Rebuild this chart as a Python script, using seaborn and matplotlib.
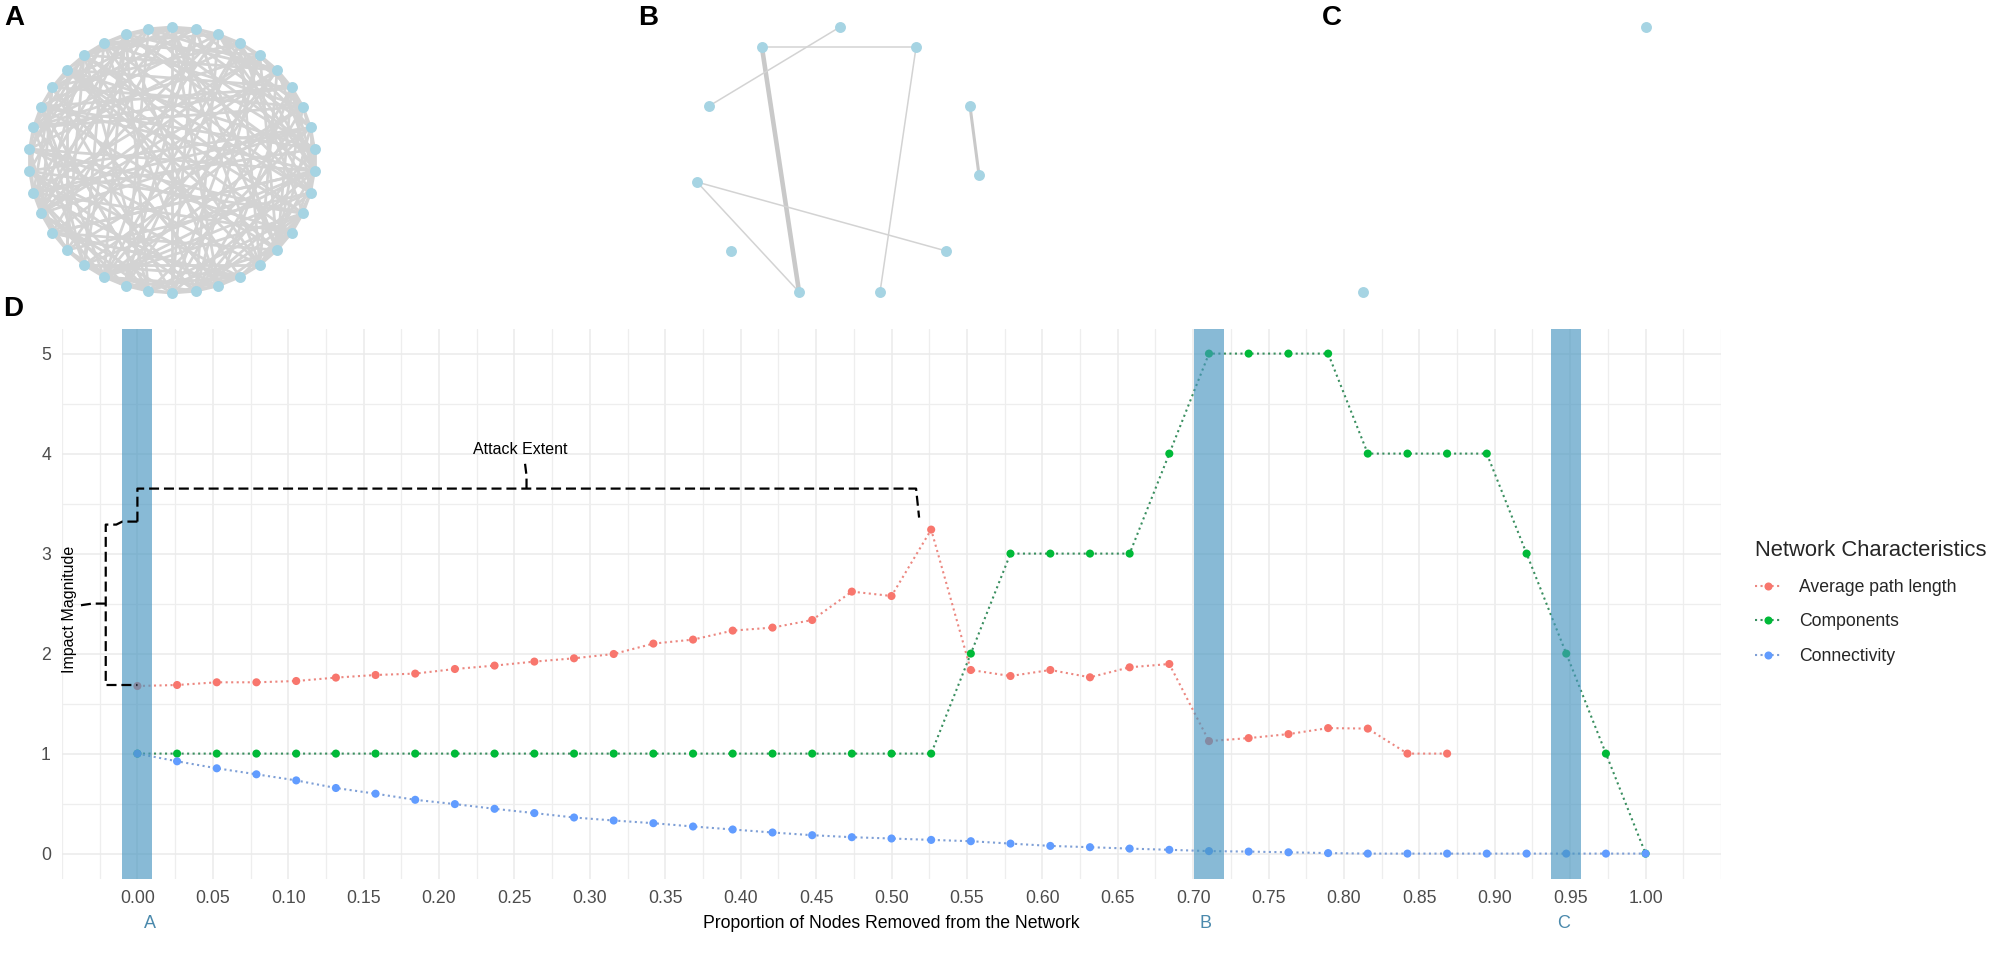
import numpy as np
import pandas as pd
import matplotlib
matplotlib.use("Agg")
import matplotlib.pyplot as plt
import seaborn as sns
from matplotlib.lines import Line2D
from matplotlib.collections import LineCollection
import matplotlib.transforms as mtransforms

# ---------------- data ----------------
prop_removed = [0.0000, 0.0263, 0.0526, 0.0789, 0.1053, 0.1316, 0.1579, 0.1842,
                0.2105, 0.2368, 0.2632, 0.2895, 0.3158, 0.3421, 0.3684, 0.3947,
                0.4211, 0.4474, 0.4737, 0.5000, 0.5263, 0.5526, 0.5789, 0.6053,
                0.6316, 0.6579, 0.6842, 0.7105, 0.7368, 0.7632, 0.7895, 0.8158,
                0.8421, 0.8684, 0.8947, 0.9211, 0.9474, 0.9737, 1.0000]

avg_path_length = [1.676, 1.686, 1.713, 1.713, 1.726, 1.760, 1.786, 1.800,
                   1.846, 1.880, 1.920, 1.953, 1.996, 2.100, 2.140, 2.230,
                   2.260, 2.336, 2.620, 2.576, 3.240, 1.836, 1.776, 1.836,
                   1.763, 1.863, 1.896, 1.125, 1.155, 1.195, 1.255, 1.250,
                   1.000, 1.000, np.nan, np.nan, np.nan, np.nan, np.nan]

components = [1, 1, 1, 1, 1, 1, 1, 1, 1, 1, 1, 1, 1, 1, 1, 1, 1, 1, 1, 1, 1,
              2, 3, 3, 3, 3, 4, 5, 5, 5, 5, 4, 4, 4, 4, 3, 2, 1, 0]

connectivity = [1.000, 0.923, 0.853, 0.793, 0.732, 0.656, 0.599, 0.538,
                0.495, 0.448, 0.405, 0.361, 0.331, 0.304, 0.271, 0.241,
                0.211, 0.184, 0.164, 0.151, 0.137, 0.124, 0.100, 0.077,
                0.064, 0.050, 0.038, 0.025, 0.020, 0.013, 0.005, 0.000,
                0.000, 0.000, 0.000, 0.000, 0.000, 0.000, 0.000]

series_names = ["Average path length", "Components", "Connectivity"]
series_colors = ["#F8766D", "#00BA38", "#619CFF"]
series_line_colors = ["#EC8780", "#3A8F60", "#7E9FD6"]

x_ticks = [0.00, 0.05, 0.10, 0.15, 0.20, 0.25, 0.30, 0.35, 0.40, 0.45, 0.50,
           0.55, 0.60, 0.65, 0.70, 0.75, 0.80, 0.85, 0.90, 0.95, 1.00]
y_ticks = [0, 1, 2, 3, 4, 5]

snapshot_idx = [0, 27, 36]
snapshot_labels = ["A", "B", "C"]

# network A: circular layout, 38 nodes; edges as chord offsets per node
net_a_n = 38
net_a_offsets = [
    [1, 3, 8, 14, 19, 27], [1, 2, 6, 13, 21, 30], [1, 4, 9, 16, 24, 33],
    [1, 2, 7, 12, 18, 29], [1, 3, 10, 15, 22, 26], [1, 2, 5, 17, 20, 31],
    [1, 4, 8, 13, 25, 34], [1, 2, 11, 16, 23, 28], [1, 3, 6, 14, 19, 32],
    [1, 2, 9, 18, 24, 27], [1, 5, 12, 15, 21, 30], [1, 2, 7, 13, 26, 33],
    [1, 3, 10, 17, 22, 29], [1, 2, 4, 16, 20, 35], [1, 6, 11, 19, 25, 31],
    [1, 2, 8, 14, 23, 28], [1, 3, 9, 12, 18, 34], [1, 2, 5, 15, 21, 27],
    [1, 4, 10, 17, 24, 32], [1, 2, 7, 13, 20, 29], [1, 3, 11, 16, 26, 30],
    [1, 2, 6, 18, 22, 33], [1, 5, 9, 14, 19, 27], [1, 2, 8, 12, 25, 31],
    [1, 3, 10, 16, 21, 35], [1, 2, 4, 13, 23, 29], [1, 6, 11, 17, 20, 32],
    [1, 2, 9, 15, 24, 28], [1, 3, 7, 18, 22, 30], [1, 2, 5, 12, 19, 34],
    [1, 4, 10, 14, 26, 31], [1, 2, 8, 16, 21, 27], [1, 3, 6, 13, 23, 33],
    [1, 2, 11, 17, 20, 29], [1, 5, 9, 15, 24, 30], [1, 2, 7, 14, 18, 32],
    [1, 3, 12, 19, 25, 28], [1, 2, 6, 10, 22, 31],
]

# network B (11 nodes left) layout coordinates
net_b_x = [0.230, 0.507, 0.777, 0.043, 0.968, 0.000, 1.000, 0.121, 0.883, 0.362, 0.649]
net_b_y = [0.925, 1.000, 0.925, 0.702, 0.702, 0.415, 0.442, 0.155, 0.155, 0.000, 0.000]
net_b_edges = [(0, 2), (0, 9), (1, 3), (2, 10), (4, 6), (5, 8), (5, 9)]
net_b_weights = [1, 3, 1, 1, 2, 1, 1]

# network C (2 nodes left)
net_c_x = [1.0, 0.0]
net_c_y = [1.0, 0.0]

# ---------------- style ----------------
sns.set_theme(style="white")
plt.rcParams['font.family'] = ['Liberation Sans', 'DejaVu Sans']

W, H = 2000, 955
fig = plt.figure(figsize=(W / 100, H / 100), dpi=100)
fig.patch.set_facecolor("white")

node_color = "#A6D4E3"
edge_color = "#D3D3D3"

# ---------------- panel A ----------------
ax_a = fig.add_axes([29 / W, 1 - 293 / H, 286 / W, 266 / H])
ang = np.deg2rad(90 - np.arange(net_a_n) * 360.0 / net_a_n)
ax_pos = np.cos(ang)
ay_pos = np.sin(ang)
segs = []
for i, offs in enumerate(net_a_offsets):
    for o in offs:
        j = (i + o) % net_a_n
        segs.append([(ax_pos[i], ay_pos[i]), (ax_pos[j], ay_pos[j])])
ax_a.add_collection(LineCollection(segs, colors=edge_color, linewidths=2.0,
                                   zorder=1, clip_on=False))
ax_a.scatter(ax_pos, ay_pos, s=62, color=node_color, linewidths=0, zorder=2,
             clip_on=False)
ax_a.set_xlim(-1, 1)
ax_a.set_ylim(-1, 1)
ax_a.axis("off")

# ---------------- panel B ----------------
ax_b = fig.add_axes([697 / W, 1 - 292 / H, 282 / W, 265 / H])
for (i, j), w in zip(net_b_edges, net_b_weights):
    ax_b.plot([net_b_x[i], net_b_x[j]], [net_b_y[i], net_b_y[j]],
              color="#C9C9C9" if w > 1 else edge_color, lw=1.1 * w,
              zorder=1, clip_on=False, solid_capstyle="butt")
ax_b.scatter(net_b_x, net_b_y, s=62, color=node_color, linewidths=0, zorder=2,
             clip_on=False)
ax_b.set_xlim(0, 1)
ax_b.set_ylim(0, 1)
ax_b.axis("off")

# ---------------- panel C ----------------
ax_c = fig.add_axes([1363 / W, 1 - 292 / H, 283 / W, 265 / H])
ax_c.scatter(net_c_x, net_c_y, s=62, color=node_color, linewidths=0, zorder=2,
             clip_on=False)
ax_c.set_xlim(0, 1)
ax_c.set_ylim(0, 1)
ax_c.axis("off")

# ---------------- panel D ----------------
ax = fig.add_axes([62 / W, 1 - 878.6 / H, (1721 - 62) / W, 550 / H])

df = pd.DataFrame({
    "prop": prop_removed * 3,
    "value": avg_path_length + components + connectivity,
    "metric": np.repeat(series_names, len(prop_removed)),
}).dropna()

sns.lineplot(data=df, x="prop", y="value", hue="metric", hue_order=series_names,
             palette=dict(zip(series_names, series_line_colors)),
             linestyle=":", linewidth=1.5, estimator=None, legend=False, ax=ax,
             zorder=2)
sns.scatterplot(data=df, x="prop", y="value", hue="metric", hue_order=series_names,
                palette=dict(zip(series_names, series_colors)), s=34,
                linewidth=0, legend=False, ax=ax, zorder=2.5)

bar_color = "#4896C0"
for k in snapshot_idx:
    xc = prop_removed[k]
    ax.axvspan(xc - 0.01, xc + 0.01, color=bar_color, alpha=0.65, lw=0, zorder=3)

ax.set_xlim(-0.05, 1.05)
ax.set_ylim(-0.25, 5.25)
ax.set_xticks(x_ticks)
ax.set_xticklabels([f"{t:.2f}" for t in x_ticks])
ax.set_xticks(np.arange(-0.05, 1.0501, 0.025), minor=True)
ax.set_yticks(y_ticks)
ax.set_yticklabels([str(t) for t in y_ticks])
ax.set_yticks(np.arange(0, 5.01, 0.5), minor=True)
ax.grid(which="major", color="#EBEBEB", lw=1.1)
ax.grid(which="minor", color="#EEEEEE", lw=0.9)
ax.set_axisbelow(True)
for s in ax.spines.values():
    s.set_visible(False)
ax.tick_params(which="both", length=0)
ax.tick_params(axis="x", labelsize=12.7, labelcolor="#4D4D4D", pad=8)
ax.tick_params(axis="y", labelsize=12.7, labelcolor="#4D4D4D", pad=8)
ax.set_xlabel("Proportion of Nodes Removed from the Network", fontsize=12.7,
              color="black", labelpad=6)
ax.set_ylabel("")

# snapshot labels under the axis
trans = mtransforms.blended_transform_factory(ax.transData, ax.transAxes)
for k, lab in zip(snapshot_idx, snapshot_labels):
    ax.text(prop_removed[k] + (0.008 if k == 0 else -0.002), -0.081, lab,
            transform=trans, ha="center", va="center", fontsize=13,
            color="#4A89AC", clip_on=False)

# braces (annotations)
peak = 20
y_brace = 3.65
y_join = 3.32
x_vb = -0.021
dash = dict(color="black", lw=1.6, linestyle=(0, (4.5, 2.2)), zorder=6, clip_on=False)
# attack extent brace
ax.plot([prop_removed[0], prop_removed[0], prop_removed[peak] - 0.01,
         prop_removed[peak] - 0.008],
        [y_join, y_brace, y_brace, 3.36], **dash)
ax.plot([0.258, 0.258, 0.257], [y_brace, 3.78, 3.90], **dash)
ax.text(0.254, 4.04, "Attack Extent", ha="center", va="center", fontsize=11.5,
        color="black", zorder=6)
# impact magnitude brace
ax.plot([prop_removed[0], -0.010, -0.014, x_vb, x_vb, prop_removed[0]],
        [y_join, y_join, y_join - 0.03, y_join - 0.03, avg_path_length[0] + 0.01,
         avg_path_length[0] + 0.01], **dash)
ax.plot([x_vb, -0.03, -0.039], [2.50, 2.50, 2.48], **dash)
ax.text(-0.0447, 2.44, "Impact Magnitude", rotation=90, ha="center", va="center",
        fontsize=11.5, color="black", zorder=6)

# legend
handles = [Line2D([], [], color=lc, marker="o", markerfacecolor=c, linestyle=":",
                  lw=1.5, markersize=5.8, markeredgewidth=0)
           for c, lc in zip(series_colors, series_line_colors)]
fig.legend(handles, series_names, title="Network Characteristics",
           loc="upper left", bbox_to_anchor=(1748 / W, 1 - 533 / H),
           frameon=False, fontsize=12.7, title_fontsize=15.8, handlelength=1.5,
           handletextpad=1.0, labelspacing=1.0, borderpad=0.4, borderaxespad=0,
           alignment="left")

# panel tags
for lab, xp, yp in [("A", 4, 18), ("B", 638, 18), ("C", 1322, 18), ("D", 3, 309)]:
    fig.text(xp / W, 1 - yp / H, lab, ha="left", va="center", fontsize=20,
             fontweight="bold", color="black")

fig.savefig("out.png", dpi=100, facecolor="white")
